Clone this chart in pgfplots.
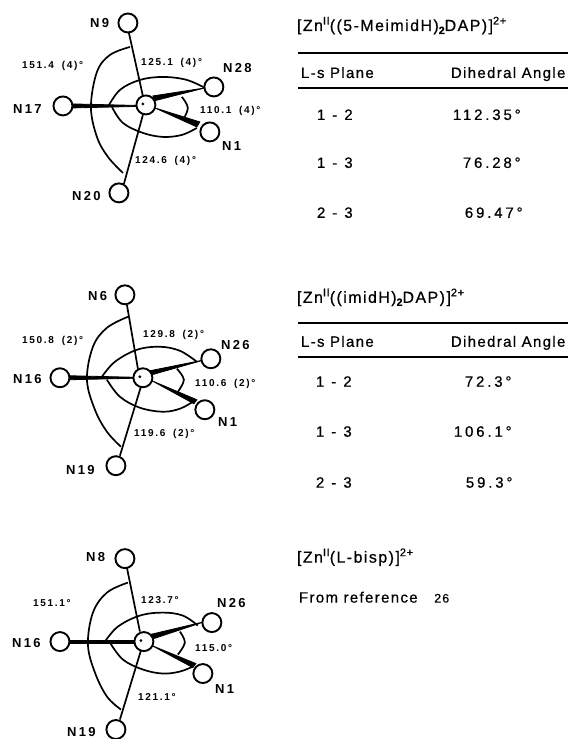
\documentclass[border=0pt]{standalone}
\usepackage{fontspec}
\setmainfont{Liberation Sans}
\newfontfamily\tf{Liberation Sans}[LetterSpace=9,FakeBold=0.6]
\newfontfamily\ttlf{Liberation Sans}[LetterSpace=9,FakeBold=0.6]
\newfontfamily\nf{Liberation Sans}[LetterSpace=19,FakeBold=0.6]
\newfontfamily\supf{Liberation Sans}[LetterSpace=6,FakeBold=0.8]
\newfontfamily\af{Liberation Sans}[LetterSpace=17]
\newfontfamily\lf{Liberation Sans}[LetterSpace=18]
\usepackage{pgfplots}
\pgfplotsset{compat=1.18}
\newcommand{\T}[3]{\node[anchor=base west,inner sep=0pt,font=\tf\fontsize{15}{15}\selectfont] at (axis cs:#1,#2) {#3};}
\newcommand{\Ti}[3]{\node[anchor=base west,inner sep=0pt,font=\ttlf\fontsize{16}{16}\selectfont] at (axis cs:#1,#2) {#3};}
\newcommand{\Nm}[3]{\node[anchor=base west,inner sep=0pt,font=\nf\fontsize{15}{15}\selectfont] at (axis cs:#1,#2) {#3};}
\newcommand{\A}[3]{\node[anchor=base west,inner sep=0pt,font=\af\bfseries\fontsize{10}{10}\selectfont] at (axis cs:#1,#2) {#3};}
\newcommand{\La}[3]{\node[anchor=base west,inner sep=0pt,font=\lf\bfseries\fontsize{13}{13}\selectfont] at (axis cs:#1,#2) {#3};}
\newcommand{\Up}[1]{\raisebox{6.5pt}{\supf\fontsize{11}{11}\selectfont #1}}
\newcommand{\Dn}[1]{\raisebox{-3pt}{\supf\bfseries\fontsize{10.5}{10.5}\selectfont #1}}
\begin{document}
\begin{tikzpicture}
\begin{axis}[width=569pt,height=739pt,scale only axis,hide axis,xmin=0,xmax=569,ymin=0,ymax=739,y dir=reverse,clip=true,
  arc/.style={black,line width=1.7pt,smooth,tension=0.6},
  thin bond/.style={black,line width=1.7pt},
  wedge/.style={black,fill=black,line width=0.8pt},
  rule/.style={black,line width=1.8pt},
  atom/.style={only marks,mark=*,mark size=9.5pt,mark options={fill=white,draw=black,line width=1.9pt}}]
% ---------- first diagram
\addplot[arc] coordinates {(130,47)(110,55)(97,72)(91,107)(97,137)(108,157)(123,173)};
\addplot[arc] coordinates {(108,107)(120,90)(140,80)(163,77)(187,80)(207,89)};
\addplot[arc] coordinates {(112,107)(123,123)(143,133)(163,137)(182,135)(197,128)};
\addplot[arc] coordinates {(182,97)(188,108)(183,120)};
\addplot[thin bond] coordinates {(129,33)(143,96)};
\addplot[thin bond] coordinates {(124,184)(143,115)};
\addplot[wedge] coordinates {(73,104)(137,105.5)(137,106.5)(73,108)} --cycle;
\addplot[wedge] coordinates {(153,96)(205,88)(154,101)} --cycle;
\addplot[wedge] coordinates {(155,108)(200,122)(197,127)} --cycle;
\addplot[atom] coordinates {(128,23)(214,87)(63,106)(210,132)(119,193)(146,105)};
\addplot[only marks,mark=*,mark size=1.2pt,black] coordinates {(143,104)};
% ---------- second diagram
\addplot[arc] coordinates {(128,317)(107,328)(93,347)(87,380)(95,410)(107,432)(121,447)};
\addplot[arc] coordinates {(102,377)(115,362)(137,350)(160,347)(180,351)(197,362)};
\addplot[arc] coordinates {(107,380)(120,397)(140,408)(163,412)(180,409)(193,402)};
\addplot[arc] coordinates {(177,369)(184,380)(178,392)};
\addplot[thin bond] coordinates {(127,305)(138,369)};
\addplot[thin bond] coordinates {(120,456)(141,387)};
\addplot[wedge] coordinates {(70,376)(134,377.5)(134,378.5)(70,380)} --cycle;
\addplot[wedge] coordinates {(150,371)(205,360)(152,375)} --cycle;
\addplot[wedge] coordinates {(152,381)(197,400)(194,404)} --cycle;
\addplot[atom] coordinates {(125,295)(211,359)(60,378)(205,410)(116,466)(143,378)};
\addplot[only marks,mark=*,mark size=1.2pt,black] coordinates {(140,377)};
% ---------- third diagram
\addplot[arc] coordinates {(128,583)(107,593)(93,613)(88,645)(95,673)(107,697)(121,710)};
\addplot[arc] coordinates {(105,642)(118,627)(140,616)(163,613)(183,616)(198,626)};
\addplot[arc] coordinates {(110,643)(123,660)(143,670)(163,674)(180,672)(193,667)};
\addplot[arc] coordinates {(180,632)(185,643)(178,655)};
\addplot[thin bond] coordinates {(127,568)(140,632)};
\addplot[thin bond] coordinates {(120,720)(141,651)};
\addplot[wedge] coordinates {(70,641)(134,641)(134,644)(70,644)} --cycle;
\addplot[wedge] coordinates {(150,635)(205,622)(151,640)} --cycle;
\addplot[wedge] coordinates {(152,646)(196,664)(193,668)} --cycle;
\addplot[atom] coordinates {(125,559)(212,623)(60,642)(203,674)(116,730)(144,642)};
\addplot[only marks,mark=*,mark size=1.2pt,black] coordinates {(141,641)};
% ---------- table rules
\addplot[rule] coordinates {(298,53)(568,53)};
\addplot[rule] coordinates {(298,88)(568,88)};
\addplot[rule] coordinates {(298,323)(568,323)};
\addplot[rule] coordinates {(298,357)(568,357)};
% ---------- diagram labels
\La{90}{28}{N9}\La{223}{73}{N28}\La{13}{114}{N17}\La{222}{151}{N1}\La{72}{201}{N20}
\A{22}{69}{151.4 \,\,(4)°}\A{141}{66}{125.1 \,\,(4)°}\A{200}{114}{110.1 \,\,(4)°}\A{135}{164}{124.6 \,\,(4)°}
\La{88}{301}{N6}\La{221}{350}{N26}\La{13}{384}{N16}\La{218}{427}{N1}\La{66}{475}{N19}
\A{22}{344}{150.8 \,\,(2)°}\A{143}{338}{129.8 \,\,(2)°}\A{195}{387}{110.6 \,\,(2)°}\A{134}{437}{119.6 \,\,(2)°}
\La{86}{562}{N8}\La{217}{608}{N26}\La{12}{648}{N16}\La{215}{694}{N1}\La{67}{737}{N19}
\A{33}{607}{151.1°}\A{141}{604}{123.7°}\A{195}{652}{115.0°}\A{138}{701}{121.1°}
% ---------- table 1
\Ti{297}{31}{[Zn\Up{II}((5-MeimidH)\Dn{2}DAP)]\Up{2+}}
\T{301}{78}{L-s Plane}\T{451}{78}{Dihedral Angle}
\Nm{317}{120}{1 - 2}\Nm{453}{120}{112.35°}
\Nm{317}{168}{1 - 3}\Nm{463}{168}{76.28°}
\Nm{317}{218}{2 - 3}\Nm{465}{218}{69.47°}
% ---------- table 2
\Ti{297}{303}{[Zn\Up{II}((imidH)\Dn{2}DAP)]\Up{2+}}
\T{301}{347}{L-s Plane}\T{451}{347}{Dihedral Angle}
\Nm{316}{387}{1 - 2}\Nm{465}{387}{72.3°}
\Nm{316}{437}{1 - 3}\Nm{454}{437}{106.1°}
\Nm{316}{488}{2 - 3}\Nm{466}{488}{59.3°}
% ---------- third block
\Ti{297}{563}{[Zn\Up{II}(L-bisp)]\Up{2+}}
\T{299}{603}{From reference \ \ {\fontsize{12.5}{12.5}\selectfont 26}}
\end{axis}
\path (0,0) rectangle (569pt,739pt);
\end{tikzpicture}
\end{document}
